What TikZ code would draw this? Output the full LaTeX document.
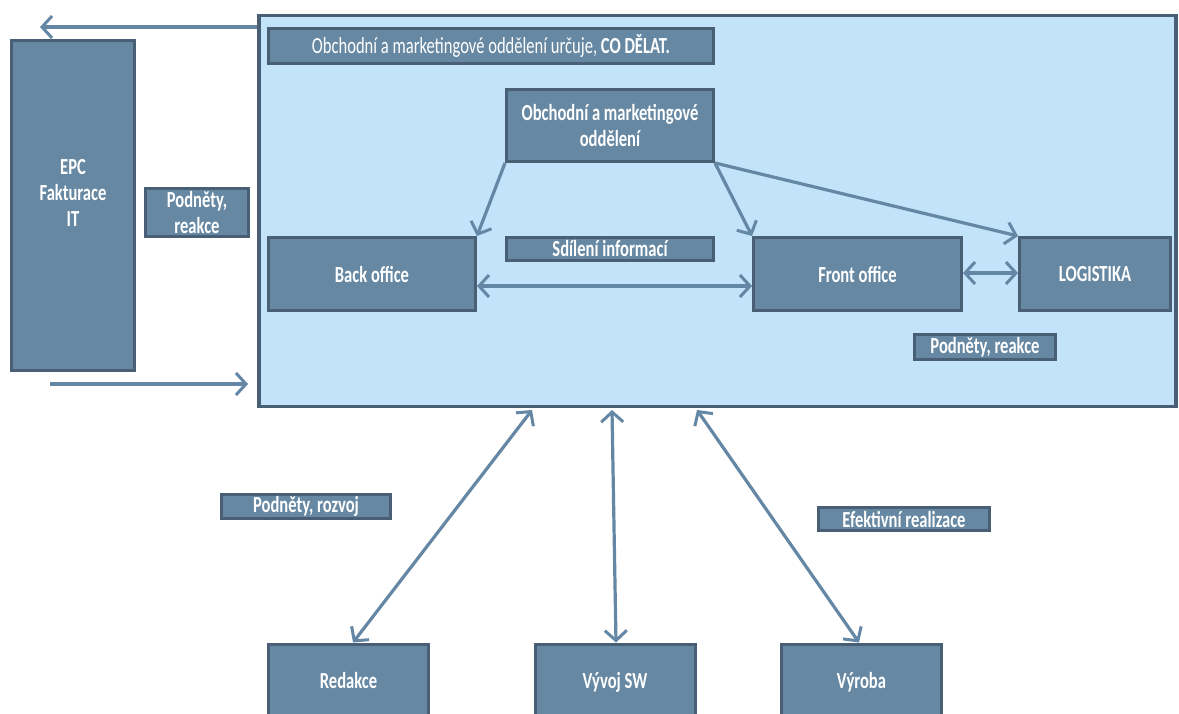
\documentclass[tikz,border=0pt]{standalone}
\usepackage{fontspec}
\setmainfont{Carlito}[FakeStretch=0.72]
\usetikzlibrary{arrows.meta}
\definecolor{lightfill}{RGB}{194,227,249}
\definecolor{boxfill}{RGB}{103,136,163}
\definecolor{boxborder}{RGB}{72,95,117}
\definecolor{arrowcol}{RGB}{100,135,165}
\newcommand\mybx[6][]{\node[box,#1, minimum width={#4-#2-3}, minimum height={#5-#3-3}] (#6) at ({(#2+#4)/2},{(#3+#5)/2})}
\begin{document}
\begin{tikzpicture}[x=1pt,y=-1pt,
  box/.style={draw=boxborder, line width=3pt, fill=boxfill, text=white, font=\fontsize{23}{26}\selectfont\bfseries, align=center, inner sep=0pt},
  tip/.tip={Straight Barb[length=10pt,width=22pt,line width=3pt]},
  conn/.style={draw=arrowcol, line width=3.2pt, -{tip}},
  biconn/.style={draw=arrowcol, line width=3.2pt, {tip}-{tip}}]
\useasboundingbox (0,0) rectangle (1179,713);
\clip (0,0) rectangle (1179,713);
% main light box
\node[draw=boxborder, line width=3.5pt, fill=lightfill, minimum width=917pt, minimum height=391pt, inner sep=0pt] (main) at (717.5,211) {};
% left side
\mybx{10}{39}{136}{372}{epc} {EPC\\Fakturace\\IT\\[-1pt]};
\mybx{144}{187}{250}{238}{podl} {Podněty,\\reakce};
\coordinate (tl) at (40,27);
\coordinate (bl) at (50,384);
\coordinate (br) at (248,384);
\draw[conn] (main.west |- tl) -- (tl);
\draw[conn] (bl) -- (br);
% inside
\mybx[font=\fontsize{23}{26}\selectfont]{267}{27}{715}{65}{bar} {Obchodní a marketingové oddělení určuje, \textbf{CO DĚLAT.}};
\mybx{505}{88}{715}{163}{obch} {Obchodní a marketingové\\oddělení};
\mybx{267}{236}{477}{312}{back} {Back office};
\mybx{505}{236}{715}{262}{sdil} {Sdílení informací};
\mybx{752}{236}{963}{312}{front} {Front office};
\mybx{1018}{236}{1172}{312}{logi} {LOGISTIKA};
\mybx{913}{333}{1057}{361}{podr} {Podněty, reakce};
\draw[conn] (obch.south west) -- (back.north east);
\draw[conn] (obch.south east) -- (front.north west);
\draw[conn] (obch.south east) -- (logi.north west);
\draw[biconn] (back.east |- 0,286) -- (front.west |- 0,286);
\draw[biconn] (front.east |- 0,273) -- (logi.west |- 0,273);
% bottom
\tikzset{bottombox/.style={box, minimum width=160pt, anchor=north, text height=44pt, text depth=74pt}}
\node[bottombox] (red) at (348.5,642.5) {Redakce};
\node[bottombox] (vyv) at (615,642.5) {Vývoj SW};
\node[bottombox] (vyr) at (861.5,642.5) {Výroba};
\mybx{220}{493}{392}{520}{podz} {Podněty, rozvoj};
\mybx{817}{506}{991}{532}{efek} {Efektivní realizace};
\coordinate (m1) at (532,410);
\coordinate (m2) at (612,410);
\coordinate (m3) at (697,410);
\draw[biconn] (m1) -- (red.north -| 353,0);
\draw[biconn] (m2) -- (vyv.north -| 616,0);
\draw[biconn] (m3) -- (vyr.north -| 859,0);
\end{tikzpicture}
\end{document}
